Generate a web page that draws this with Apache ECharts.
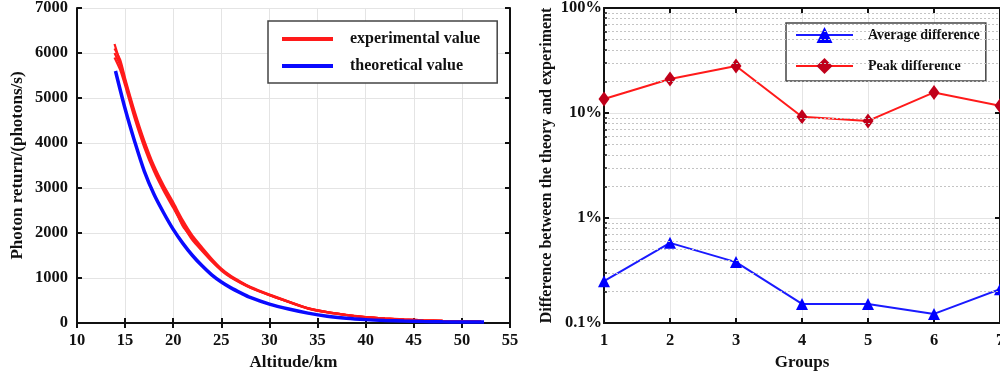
<!DOCTYPE html>
<html>
<head>
<meta charset="utf-8">
<script src="https://cdn.jsdelivr.net/npm/echarts@6.0.0/dist/echarts.min.js"></script>
<style>
  html, body { margin: 0; padding: 0; background: #fff; overflow: hidden; }
  #chart { width: 1000px; height: 376px; }
</style>
</head>
<body>
<div id="chart"></div>
<script>
// left panel: photon return vs altitude
const expAlt = [13.9, 14.5, 15, 16, 17, 18, 19, 20, 21, 22, 23, 24, 25, 26, 27, 28, 30, 32, 34, 36, 38, 40, 42, 44, 46, 48, 50, 52];
const expRun1 = [6200, 5780, 5380, 4640, 4000, 3440, 3000, 2620, 2240, 1900, 1640, 1400, 1190, 1030, 905, 795, 625, 470, 325, 240, 178, 130, 100, 78, 60, 48, 38, 30];
const expRun2 = [5900, 5620, 5280, 4540, 3900, 3370, 2940, 2560, 2180, 1840, 1600, 1370, 1165, 1010, 890, 785, 615, 465, 320, 236, 175, 128, 98, 76, 59, 47, 37, 29];
const expRun3 = [6100, 5840, 5440, 4700, 4050, 3500, 3060, 2680, 2280, 1940, 1680, 1430, 1210, 1045, 918, 805, 632, 478, 330, 244, 182, 132, 102, 80, 61, 49, 39, 31];
const expRun4 = [6000, 5720, 5340, 4600, 3960, 3420, 2980, 2600, 2150, 1880, 1620, 1380, 1180, 1020, 898, 790, 620, 470, 324, 240, 178, 130, 100, 78, 60, 48, 38, 30];
const theoAlt = [14, 15, 16, 17, 18, 19, 20, 21, 22, 23, 24, 25, 26, 27, 28, 30, 32, 34, 36, 38, 40, 42, 44, 46, 48, 50, 52.3];
const theoValue = [5600, 4760, 4030, 3370, 2860, 2450, 2080, 1770, 1500, 1270, 1070, 910, 780, 670, 570, 420, 310, 220, 150, 105, 75, 55, 42, 33, 27, 23, 20];

// right panel: difference per group (%)
const groups = [1, 2, 3, 4, 5, 6, 7];
const avgDiff = [0.25, 0.58, 0.38, 0.152, 0.152, 0.122, 0.21];
const peakDiff = [13.6, 21.1, 28.0, 9.2, 8.4, 15.7, 11.7];
const minorLevels = [0.2, 0.3, 0.4, 0.5, 0.6, 0.7, 0.8, 0.9, 2, 3, 4, 5, 6, 7, 8, 9, 20, 30, 40, 50, 60, 70, 80, 90];

const pair = (xs, ys) => xs.map((x, i) => [x, ys[i]]);

const FONT = "'Liberation Serif', 'DejaVu Serif', serif";
const labelStyle = { fontFamily: FONT, fontWeight: "bold", fontSize: 16.5, color: "#111" };
const nameStyle = { fontFamily: FONT, fontWeight: "bold", fontSize: 17, color: "#111" };
const gridLine = { show: true, lineStyle: { color: "#e4e4e4", width: 1 } };
const blackLine = { show: true, lineStyle: { color: "#111", width: 2 } };
const inTick = { show: true, inside: true, length: 5, lineStyle: { color: "#111", width: 2 } };

const chart = echarts.init(document.getElementById("chart"));

const expSeries = [expRun1, expRun2, expRun3, expRun4].map((run) => ({
  name: "experimental value",
  type: "line",
  xAxisIndex: 0,
  yAxisIndex: 0,
  data: pair(expAlt, run),
  showSymbol: false,
  symbol: "none",
  smooth: 0.2,
  color: "#ff1a1a",
  lineStyle: { color: "#ff1a1a", width: 2.2 },
}));

const option = {
  animation: false,
  backgroundColor: "#fff",
  grid: [
    { left: 77, right: 490, top: 8, bottom: 53, show: false, outerBoundsMode: "none" },
    { left: 604, right: 0, top: 8, bottom: 53, show: false, outerBoundsMode: "none" },
  ],
  legend: [
    {
      data: ["experimental value", "theoretical value"],
      orient: "vertical",
      left: 268,
      top: 21,
      padding: [9, 17, 8, 14],
      itemGap: 9,
      itemWidth: 51,
      itemHeight: 4,
      icon: "rect",
      borderColor: "#444",
      borderWidth: 1.5,
      backgroundColor: "#fff",
      textStyle: { fontFamily: FONT, fontWeight: "bold", fontSize: 16, color: "#111", padding: [0, 0, 0, 12], lineHeight: 18 },
    },
    {
      data: ["Average difference", "Peak difference"],
      orient: "vertical",
      left: 786,
      top: 23,
      padding: [4, 6, 7, 9],
      itemGap: 15,
      itemWidth: 57,
      itemHeight: 20,
      borderColor: "#444",
      borderWidth: 1.5,
      backgroundColor: "#fff",
      textStyle: { fontFamily: FONT, fontWeight: "bold", fontSize: 14, color: "#111", padding: [0, 0, 0, 10] },
    },
  ],
  xAxis: [
    {
      gridIndex: 0, type: "value", min: 10, max: 55, interval: 5,
      name: "Altitude/km", nameLocation: "middle", nameGap: 28,
      nameTextStyle: nameStyle,
      axisLine: blackLine, axisTick: inTick,
      axisLabel: { ...labelStyle, margin: 9 },
      splitLine: gridLine,
    },
    {
      gridIndex: 0, type: "value", position: "top", min: 10, max: 55, interval: 5,
      axisLine: blackLine, axisTick: inTick, axisLabel: { show: false }, splitLine: { show: false },
    },
    {
      gridIndex: 1, type: "value", min: 1, max: 7, interval: 1,
      name: "Groups", nameLocation: "middle", nameGap: 26,
      nameTextStyle: nameStyle,
      axisLine: blackLine, axisTick: inTick,
      axisLabel: { ...labelStyle, margin: 9 },
      splitLine: gridLine,
    },
    {
      gridIndex: 1, type: "value", position: "top", min: 1, max: 7, interval: 1,
      axisLine: blackLine, axisTick: inTick, axisLabel: { show: false }, splitLine: { show: false },
    },
  ],
  yAxis: [
    {
      gridIndex: 0, type: "value", min: 0, max: 7000, interval: 1000,
      name: "Photon return/(photons/s)", nameLocation: "middle", nameGap: 51,
      nameTextStyle: nameStyle,
      axisLine: blackLine, axisTick: inTick,
      axisLabel: { ...labelStyle, margin: 9, formatter: (v) => String(v) },
      splitLine: gridLine,
    },
    {
      gridIndex: 0, type: "value", position: "right", min: 0, max: 7000, interval: 1000,
      axisLine: blackLine, axisTick: inTick, axisLabel: { show: false }, splitLine: { show: false },
    },
    {
      gridIndex: 1, type: "log", logBase: 10, min: 0.1, max: 100,
      name: "Difference between the theory and experiment", nameLocation: "middle", nameGap: 49,
      nameTextStyle: { ...nameStyle, fontSize: 16 },
      axisLine: blackLine, axisTick: inTick,
      axisLabel: { ...labelStyle, margin: 2, formatter: (v) => v + "%" },
      splitLine: gridLine,
    },
    {
      gridIndex: 1, type: "log", logBase: 10, min: 0.1, max: 100, position: "right",
      axisLine: blackLine, axisTick: inTick, axisLabel: { show: false }, splitLine: { show: false },
    },
  ],
  series: [
    ...expSeries,
    {
      name: "theoretical value",
      type: "line",
      xAxisIndex: 0,
      yAxisIndex: 0,
      data: pair(theoAlt, theoValue),
      showSymbol: false,
      symbol: "none",
      smooth: 0.3,
      color: "#0a0aff",
      lineStyle: { color: "#0a0aff", width: 3.5 },
      z: 3,
    },
    {
      // dotted minor grid lines and small inner ticks of the log axis
      name: "minorGrid",
      type: "line",
      xAxisIndex: 2,
      yAxisIndex: 2,
      data: [],
      z: 1,
      markLine: {
        silent: true,
        symbol: ["none", "none"],
        label: { show: false },
        lineStyle: { color: "#c4c4c4", width: 1, type: [2, 2] },
        data: minorLevels.map((v) => ({ yAxis: v })).concat(
          minorLevels.map((v) => [
            { coord: [1, v], lineStyle: { color: "#111", width: 1.5, type: "solid" } },
            { coord: [1.045, v] },
          ])
        ),
      },
    },
    {
      name: "Average difference",
      type: "line",
      xAxisIndex: 2,
      yAxisIndex: 2,
      data: pair(groups, avgDiff),
      symbol: "triangle",
      symbolSize: 12,
      color: "#0000ff",
      lineStyle: { color: "#1a1aff", width: 2 },
      itemStyle: { color: "#0000ff" },
      z: 4,
    },
    {
      name: "Peak difference",
      type: "line",
      xAxisIndex: 2,
      yAxisIndex: 2,
      data: pair(groups, peakDiff),
      symbol: "diamond",
      symbolSize: [11, 15],
      color: "#c0001a",
      lineStyle: { color: "#ff1a1a", width: 2 },
      itemStyle: { color: "#c0001a" },
      z: 4,
    },
  ],
};

chart.setOption(option);
</script>
</body>
</html>
